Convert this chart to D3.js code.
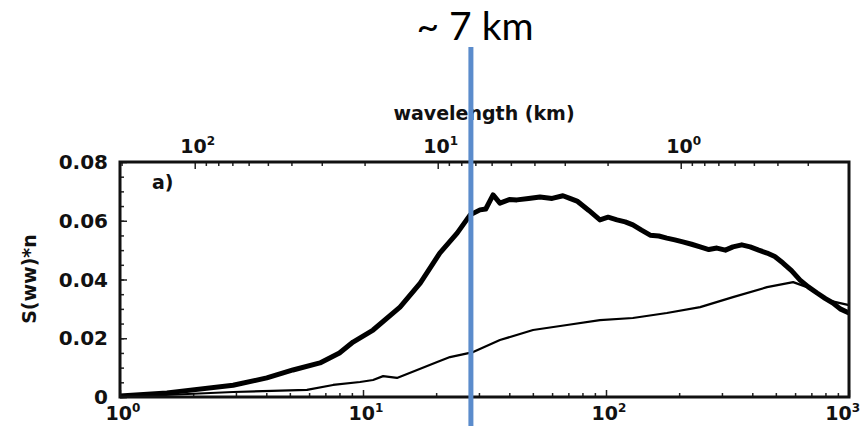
<!DOCTYPE html>
<html>
<head>
<meta charset="utf-8">
<script src="https://cdn.jsdelivr.net/npm/d3@7"></script>
<style>
  body { margin: 0; background: #fff; }
  svg { display: block; }
  .lab { font-family: "DejaVu Sans", sans-serif; font-weight: bold; fill: #111; }
</style>
</head>
<body>
<div id="chart"></div>
<script>
// wavenumber n (bottom axis) and S(ww)*n
const thickN = [1, 1.56, 2.92, 4.02, 5.15, 6.65, 8.0, 9.1, 11.0, 14.2, 17.2, 20.7, 24.4, 27.6, 30.3,
  32.0, 34.3, 36.6, 40.0, 43.0, 48.0, 53.5, 60.0, 66.5, 71.0, 76.0, 85.0, 94.4, 102, 111, 120, 129,
  140, 152, 165, 178, 192, 207, 225, 244, 265, 286, 310, 333, 362, 392, 425, 460, 495, 535, 580,
  629, 680, 739, 800, 859, 920, 1000];
const thickS = [0.0003, 0.0014, 0.004, 0.0065, 0.0092, 0.0116, 0.015, 0.0187, 0.0228, 0.0306, 0.0388,
  0.049, 0.0558, 0.062, 0.0637, 0.0640, 0.0688, 0.066, 0.0672, 0.0671, 0.0676, 0.0681, 0.0676, 0.0685,
  0.0676, 0.0667, 0.0635, 0.0603, 0.0612, 0.0603, 0.0596, 0.0586, 0.0568, 0.0551, 0.0548, 0.0541,
  0.0535, 0.0528, 0.0520, 0.0511, 0.0502, 0.0507, 0.0500, 0.0511, 0.0518, 0.0511, 0.0500, 0.049,
  0.0478, 0.0456, 0.0430, 0.0398, 0.0375, 0.0354, 0.0335, 0.032, 0.0300, 0.0286];

const thinN = [1, 2.92, 5.88, 7.53, 9.72, 11.0, 12.1, 13.8, 16.7, 20.2, 22.8, 28.4, 36.6, 50.1, 69.1,
  94.4, 129, 178, 244, 333, 460, 589, 672, 811, 1000];
const thinS = [0, 0.0017, 0.0024, 0.0041, 0.0051, 0.0058, 0.0071, 0.0065, 0.0092, 0.0119, 0.0136,
  0.0153, 0.0194, 0.0228, 0.0245, 0.0262, 0.0269, 0.0286, 0.0306, 0.034, 0.0374, 0.0391, 0.0374,
  0.033, 0.0313];

const bottomMajor = [1, 10, 100, 1000];
const topMajor = [100, 10, 1];
const yTicks = [0, 0.02, 0.04, 0.06, 0.08];
const yTickLabels = ["0", "0.02", "0.04", "0.06", "0.08"];
const markerN = [27.8]; // ~7 km marker

const width = 861, height = 426,
  margin = { top: 162, bottom: 29, left: 120, right: 12 };

const svg = d3.select("#chart").append("svg")
  .attr("width", width).attr("height", height);

const x = d3.scaleLog().domain([1, 1000]).range([margin.left, width - margin.right]);
const xTop = d3.scaleLog().domain([203, 0.203]).range([margin.left, width - margin.right]);
const y = d3.scaleLinear().domain([0, 0.08]).range([height - margin.bottom, margin.top]);

// minor ticks for log axes
function logMinors(scale) {
  const [a, b] = d3.extent(scale.domain());
  const out = [];
  for (let e = Math.floor(Math.log10(a)); e <= Math.ceil(Math.log10(b)); e++) {
    for (let k = 2; k <= 9; k++) {
      const v = k * Math.pow(10, e);
      if (v > a && v < b) out.push(v);
    }
  }
  return out;
}

const y0 = height - margin.bottom;

// bottom axis ticks (inward)
svg.append("g").attr("transform", `translate(0,${y0})`)
  .call(d3.axisBottom(x).tickValues(bottomMajor).tickSize(-7).tickFormat(""))
  .call(g => g.select(".domain").remove());
svg.append("g").attr("transform", `translate(0,${y0})`)
  .call(d3.axisBottom(x).tickValues(logMinors(x)).tickSize(-4).tickFormat(""))
  .call(g => g.select(".domain").remove());

// top axis ticks (inward)
svg.append("g").attr("transform", `translate(0,${margin.top})`)
  .call(d3.axisTop(xTop).tickValues(topMajor).tickSize(-7).tickFormat(""))
  .call(g => g.select(".domain").remove());
svg.append("g").attr("transform", `translate(0,${margin.top})`)
  .call(d3.axisTop(xTop).tickValues(logMinors(xTop)).tickSize(-4).tickFormat(""))
  .call(g => g.select(".domain").remove());

// left axis ticks (inward)
svg.append("g").attr("transform", `translate(${margin.left},0)`)
  .call(d3.axisLeft(y).tickValues(yTicks).tickSize(-7).tickFormat(""))
  .call(g => g.select(".domain").remove());
svg.append("g").attr("transform", `translate(${margin.left},0)`)
  .call(d3.axisLeft(y).tickValues(d3.range(0.005, 0.08, 0.005)).tickSize(-4).tickFormat(""))
  .call(g => g.select(".domain").remove());

svg.selectAll(".tick line").attr("stroke", "#222").attr("stroke-width", 1.5);

// curves
const line = (xs, ys) => d3.line()
  .x((d, i) => x(xs[i]))
  .y((d, i) => y(ys[i]))(xs);

svg.append("path").attr("d", line(thinN, thinS))
  .attr("fill", "none").attr("stroke", "#000").attr("stroke-width", 2.2)
  .attr("stroke-linejoin", "round");
svg.append("path").attr("d", line(thickN, thickS))
  .attr("fill", "none").attr("stroke", "#000").attr("stroke-width", 5)
  .attr("stroke-linejoin", "round");

// frame
svg.append("rect")
  .attr("x", margin.left).attr("y", margin.top)
  .attr("width", width - margin.right - margin.left)
  .attr("height", y0 - margin.top)
  .attr("fill", "none").attr("stroke", "#111").attr("stroke-width", 3);

// power-of-ten labels
function powLabel(xPos, yPos, exp, anchor) {
  const t = svg.append("text").attr("class", "lab")
    .attr("x", xPos).attr("y", yPos).attr("text-anchor", anchor || "middle")
    .style("font-size", "19px");
  t.append("tspan").text("10");
  t.append("tspan").attr("dy", -8).style("font-size", "12px").text(exp);
}
bottomMajor.forEach((v, i) => {
  const last = i === bottomMajor.length - 1;
  powLabel(last ? width - 1 : x(v) + 3, 420, Math.round(Math.log10(v)), last ? "end" : "middle");
});
topMajor.forEach(v => powLabel(xTop(v) + 3, 153, Math.round(Math.log10(v))));

// y labels
svg.selectAll(".ylab").data(yTicks).join("text")
  .attr("class", "lab ylab")
  .attr("x", 108).attr("y", d => y(d) + 7)
  .attr("text-anchor", "end").style("font-size", "20px")
  .text((d, i) => yTickLabels[i]);

svg.append("text").attr("class", "lab")
  .attr("transform", "translate(36,279) rotate(-90)")
  .attr("text-anchor", "middle").style("font-size", "19px")
  .text("S(ww)*n");

svg.append("text").attr("class", "lab")
  .attr("x", 484).attr("y", 120).attr("text-anchor", "middle")
  .style("font-size", "19px").text("wavelength (km)");

svg.append("text").attr("class", "lab")
  .attr("x", 152).attr("y", 189).style("font-size", "19px").text("a)");

// blue marker line
svg.selectAll(".marker").data(markerN).join("line")
  .attr("x1", d => x(d)).attr("x2", d => x(d))
  .attr("y1", 47).attr("y2", height)
  .attr("stroke", "#5b8ccc").attr("stroke-width", 5);

svg.append("text")
  .attr("x", 475).attr("y", 40).attr("text-anchor", "middle")
  .style("font-family", "Lato, 'Open Sans', sans-serif")
  .style("font-size", "39px").style("fill", "#000")
  .text("~ 7 km");
</script>
</body>
</html>
